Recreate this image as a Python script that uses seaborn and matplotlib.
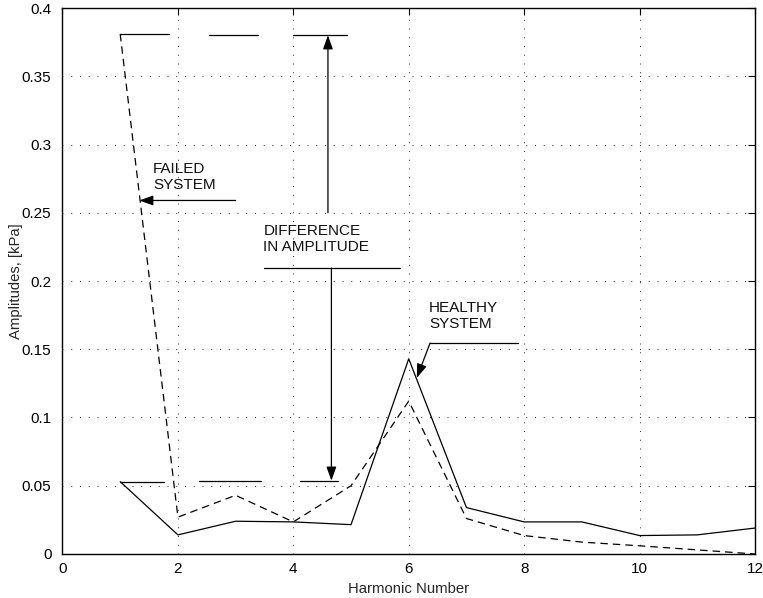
import numpy as np
import pandas as pd
import matplotlib
matplotlib.use("Agg")
import matplotlib.pyplot as plt
import seaborn as sns

# Harmonic amplitudes of the pressure signal
harmonics = [1, 2, 3, 4, 5, 6, 7, 8, 9, 10, 11, 12]
healthy = [0.053, 0.014, 0.024, 0.0235, 0.0215, 0.143, 0.034, 0.0235, 0.0235, 0.0135, 0.014, 0.019]
failed = [0.381, 0.027, 0.043, 0.0235, 0.050, 0.112, 0.026, 0.0135, 0.0087, 0.006, 0.003, 0.0]

x_ticks = [0, 2, 4, 6, 8, 10, 12]
y_ticks = [0, 0.05, 0.1, 0.15, 0.2, 0.25, 0.3, 0.35, 0.4]
y_tick_labels = ["0", "0.05", "0.1", "0.15", "0.2", "0.25", "0.3", "0.35", "0.4"]

sns.set_theme(style="white")
plt.rcParams["font.family"] = ["Liberation Sans", "DejaVu Sans"]

df = pd.DataFrame({
    "Harmonic": harmonics * 2,
    "Amplitude": healthy + failed,
    "System": ["Healthy"] * len(harmonics) + ["Failed"] * len(harmonics),
})

fig = plt.figure(figsize=(7.63, 5.98), dpi=100)
ax = fig.add_axes([0.0819, 0.0736, 0.9076, 0.913])

sns.lineplot(data=df, x="Harmonic", y="Amplitude", hue="System", style="System",
             palette={"Healthy": "black", "Failed": "black"},
             dashes={"Healthy": "", "Failed": (6, 4)},
             linewidth=0.9, legend=False, ax=ax)

ax.set_xlim(0, 12)
ax.set_ylim(0, 0.4)
ax.set_xticks(x_ticks)
ax.set_xticklabels([str(t) for t in x_ticks])
ax.set_yticks(y_ticks)
ax.set_yticklabels(y_tick_labels)
ax.tick_params(axis="both", direction="in", length=5, width=0.8, top=True, right=True,
               labelsize=11, colors="black")
ax.tick_params(axis="y", pad=8)
ax.tick_params(axis="x", pad=6)
ax.grid(True, linestyle=(0, (1, 8)), color="#333333", linewidth=0.7)
for s in ax.spines.values():
    s.set_color("black")
    s.set_linewidth(1.0)
ax.set_xlabel("Harmonic Number", fontsize=10.7, labelpad=4)
ax.set_ylabel("Amplitudes, [kPa]", fontsize=10.7, labelpad=-1)

lk = dict(color="black", linewidth=0.9)
# Reference levels of the two systems at the first harmonic
ax.plot([1.0, 1.85], [0.381, 0.381], **lk)
ax.plot([2.54, 3.39], [0.380, 0.380], **lk)
ax.plot([4.0, 4.93], [0.380, 0.380], **lk)
ax.plot([1.0, 1.76], [0.0527, 0.0527], **lk)
ax.plot([2.37, 3.44], [0.0537, 0.0537], **lk)
ax.plot([4.12, 4.77], [0.0537, 0.0537], **lk)

arrow = dict(arrowstyle="-|>,head_length=0.7,head_width=0.25", color="black",
             linewidth=0.9, shrinkA=0, shrinkB=0)
tk = dict(fontsize=11, linespacing=1.2, va="center", ha="left", color="#111111")

# Difference in amplitude
ax.text(3.48, 0.2307, "DIFFERENCE\nIN AMPLITUDE", **tk)
ax.plot([3.5, 5.85], [0.2095, 0.2095], **lk)
ax.annotate("", xy=(4.6, 0.380), xytext=(4.6, 0.250), arrowprops=arrow)
ax.annotate("", xy=(4.66, 0.0537), xytext=(4.66, 0.2095), arrowprops=arrow)

# Failed system
ax.text(1.57, 0.276, "FAILED\nSYSTEM", **tk)
ax.annotate("", xy=(1.33, 0.259), xytext=(3.0, 0.259), arrowprops=arrow)

# Healthy system
ax.text(6.35, 0.1744, "HEALTHY\nSYSTEM", **tk)
ax.plot([6.37, 7.9], [0.1546, 0.1546], **lk)
ax.annotate("", xy=(6.14, 0.129), xytext=(6.37, 0.1546), arrowprops=arrow)

fig.savefig("out.png", dpi=100, facecolor="white")
